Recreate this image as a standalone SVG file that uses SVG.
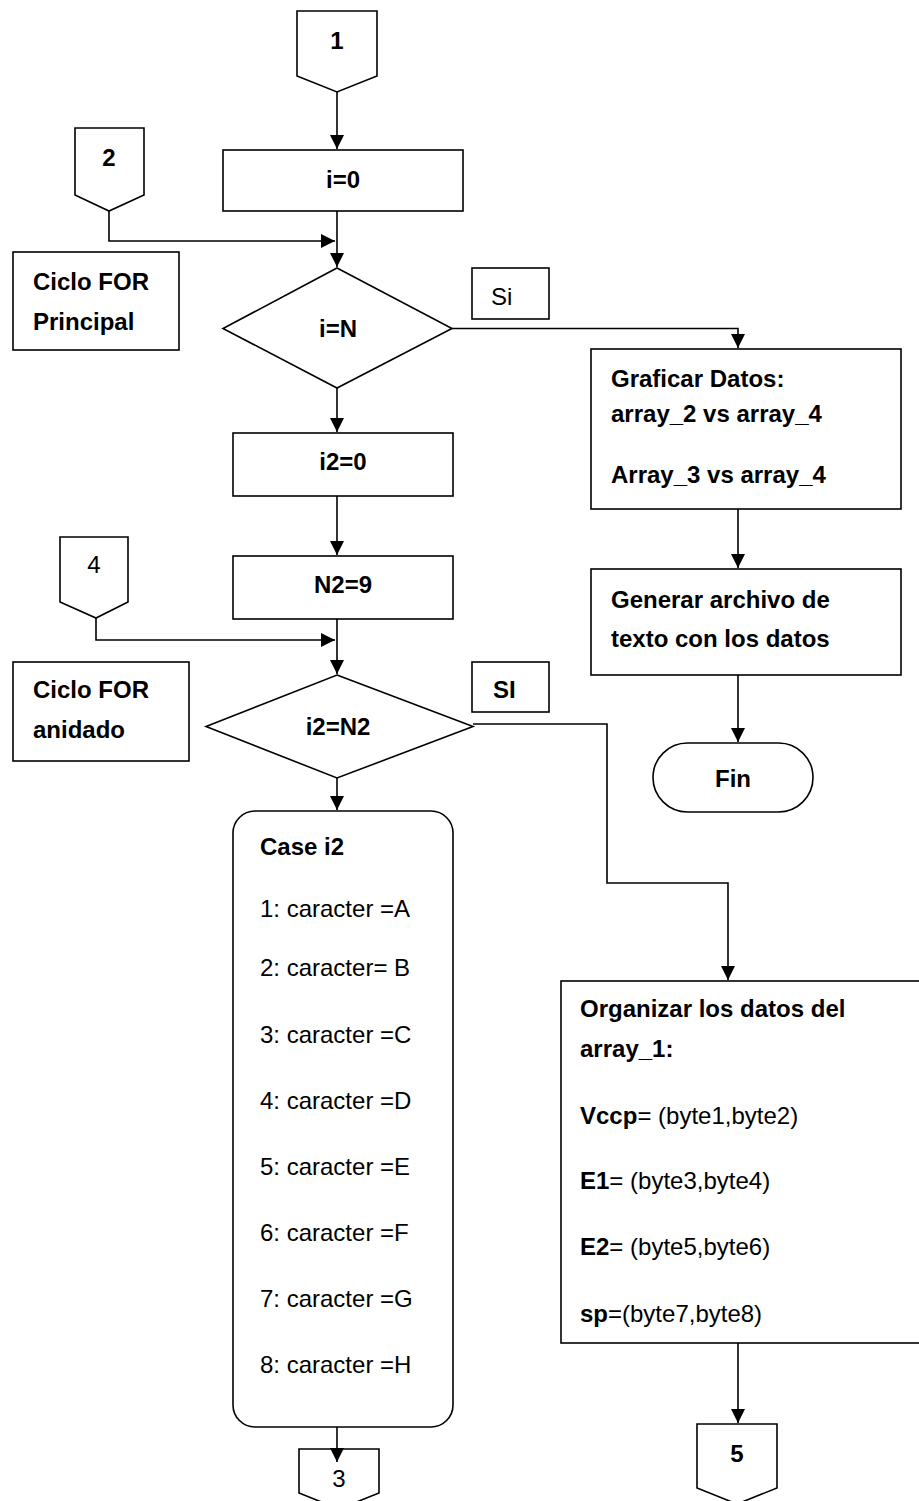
<svg xmlns="http://www.w3.org/2000/svg" width="919" height="1501" viewBox="0 0 919 1501">
<style>
.s{fill:#fff;stroke:#000;stroke-width:1.6}
.c{fill:none;stroke:#000;stroke-width:1.6}
text{font-family:"Liberation Sans",Arial,sans-serif;font-size:24px;fill:#000}
.b{font-weight:bold}
.m{text-anchor:middle}
</style>
<defs>
<marker id="ah" markerUnits="userSpaceOnUse" markerWidth="15" markerHeight="15" refX="14" refY="7" orient="auto">
<path d="M0,0 L14,7 L0,14 Z" fill="#000"/>
</marker>
</defs>
<rect width="919" height="1501" fill="#fff"/>
<g id="off1">
<path class="s" d="M297,11 H377 V76 L337,92 L297,76 Z"/>
<text class="b m" x="337" y="49">1</text>
</g>
<g id="box-i0">
<rect class="s" x="223" y="150" width="240" height="61"/>
<text class="b m" x="343" y="188">i=0</text>
</g>
<g id="off2">
<path class="s" d="M75,128 H144 V195 L109,211 L75,195 Z"/>
<text class="b m" x="109" y="166">2</text>
</g>
<g id="note-principal">
<rect class="s" x="13" y="252" width="166" height="98"/>
<text class="b" x="33" y="290">Ciclo FOR</text>
<text class="b" x="33" y="330">Principal</text>
</g>
<g id="dec-iN">
<path class="s" d="M337,268 L452,328.5 L337,388 L223,328.5 Z"/>
<text class="b m" x="338" y="337">i=N</text>
</g>
<g id="label-si">
<rect class="s" x="472" y="268" width="77" height="51"/>
<text x="491" y="305">Si</text>
</g>
<g id="box-graficar">
<rect class="s" x="591" y="349" width="310" height="160"/>
<text class="b" x="611" y="387">Graficar Datos:</text>
<text class="b" x="611" y="422">array_2 vs array_4</text>
<text class="b" x="611" y="483">Array_3 vs array_4</text>
</g>
<g id="box-generar">
<rect class="s" x="591" y="569" width="310" height="106"/>
<text class="b" x="611" y="608">Generar archivo de</text>
<text class="b" x="611" y="647">texto con los datos</text>
</g>
<g id="term-fin">
<rect class="s" x="653" y="743" width="160" height="69" rx="34.5" ry="34.5"/>
<text class="b m" x="733" y="787">Fin</text>
</g>
<g id="box-i20">
<rect class="s" x="233" y="433" width="220" height="63"/>
<text class="b m" x="343" y="470">i2=0</text>
</g>
<g id="box-n29">
<rect class="s" x="233" y="556" width="220" height="63"/>
<text class="b m" x="343" y="593">N2=9</text>
</g>
<g id="off4">
<path class="s" d="M60,537 H128 V602 L96,618 L60,602 Z"/>
<text class="m" x="94" y="573">4</text>
</g>
<g id="note-anidado">
<rect class="s" x="13" y="662" width="176" height="99"/>
<text class="b" x="33" y="698">Ciclo FOR</text>
<text class="b" x="33" y="738">anidado</text>
</g>
<g id="dec-i2N2">
<path class="s" d="M337,675 L473,726.5 L337,778 L206,726.5 Z"/>
<text class="b m" x="338" y="735">i2=N2</text>
</g>
<g id="label-SI">
<rect class="s" x="472" y="662" width="77" height="50"/>
<text class="b" x="493" y="698">SI</text>
</g>
<g id="case-i2">
<rect class="s" x="233" y="811" width="220" height="616" rx="22" ry="22"/>
<text class="b" x="260" y="855">Case i2</text>
<text x="260" y="917">1: caracter =A</text>
<text x="260" y="976">2: caracter= B</text>
<text x="260" y="1043">3: caracter =C</text>
<text x="260" y="1109">4: caracter =D</text>
<text x="260" y="1175">5: caracter =E</text>
<text x="260" y="1241">6: caracter =F</text>
<text x="260" y="1307">7: caracter =G</text>
<text x="260" y="1373">8: caracter =H</text>
</g>
<g id="off3">
<path class="s" d="M299,1449 H379 V1493 L339,1509 L299,1493 Z"/>
<text class="m" x="339" y="1487">3</text>
</g>
<g id="box-organizar">
<rect class="s" x="561" y="981" width="360" height="362"/>
<text class="b" x="580" y="1017">Organizar los datos del</text>
<text class="b" x="580" y="1057">array_1:</text>
<text x="580" y="1124"><tspan class="b">Vccp</tspan>= (byte1,byte2)</text>
<text x="580" y="1189"><tspan class="b">E1</tspan>= (byte3,byte4)</text>
<text x="580" y="1255"><tspan class="b">E2</tspan>= (byte5,byte6)</text>
<text x="580" y="1322"><tspan class="b">sp</tspan>=(byte7,byte8)</text>
</g>
<g id="off5">
<path class="s" d="M697,1424 H777 V1488 L737,1504 L697,1488 Z"/>
<text class="b m" x="737" y="1462">5</text>
</g>
<g id="connectors">
<path class="c" d="M337,92 V149" marker-end="url(#ah)"/>
<path class="c" d="M109,211 V241 H335" marker-end="url(#ah)"/>
<path class="c" d="M337,211 V267" marker-end="url(#ah)"/>
<path class="c" d="M452,328.5 H738 V348" marker-end="url(#ah)"/>
<path class="c" d="M738,509 V568" marker-end="url(#ah)"/>
<path class="c" d="M738,675 V742" marker-end="url(#ah)"/>
<path class="c" d="M337,388 V432" marker-end="url(#ah)"/>
<path class="c" d="M337,496 V555" marker-end="url(#ah)"/>
<path class="c" d="M96,618 V640 H335" marker-end="url(#ah)"/>
<path class="c" d="M337,619 V674" marker-end="url(#ah)"/>
<path class="c" d="M473,724 H607 V883 H728 V980" marker-end="url(#ah)"/>
<path class="c" d="M337,778 V810" marker-end="url(#ah)"/>
<path class="c" d="M337,1427 V1462" marker-end="url(#ah)"/>
<path class="c" d="M738,1343 V1423" marker-end="url(#ah)"/>
</g>
</svg>
